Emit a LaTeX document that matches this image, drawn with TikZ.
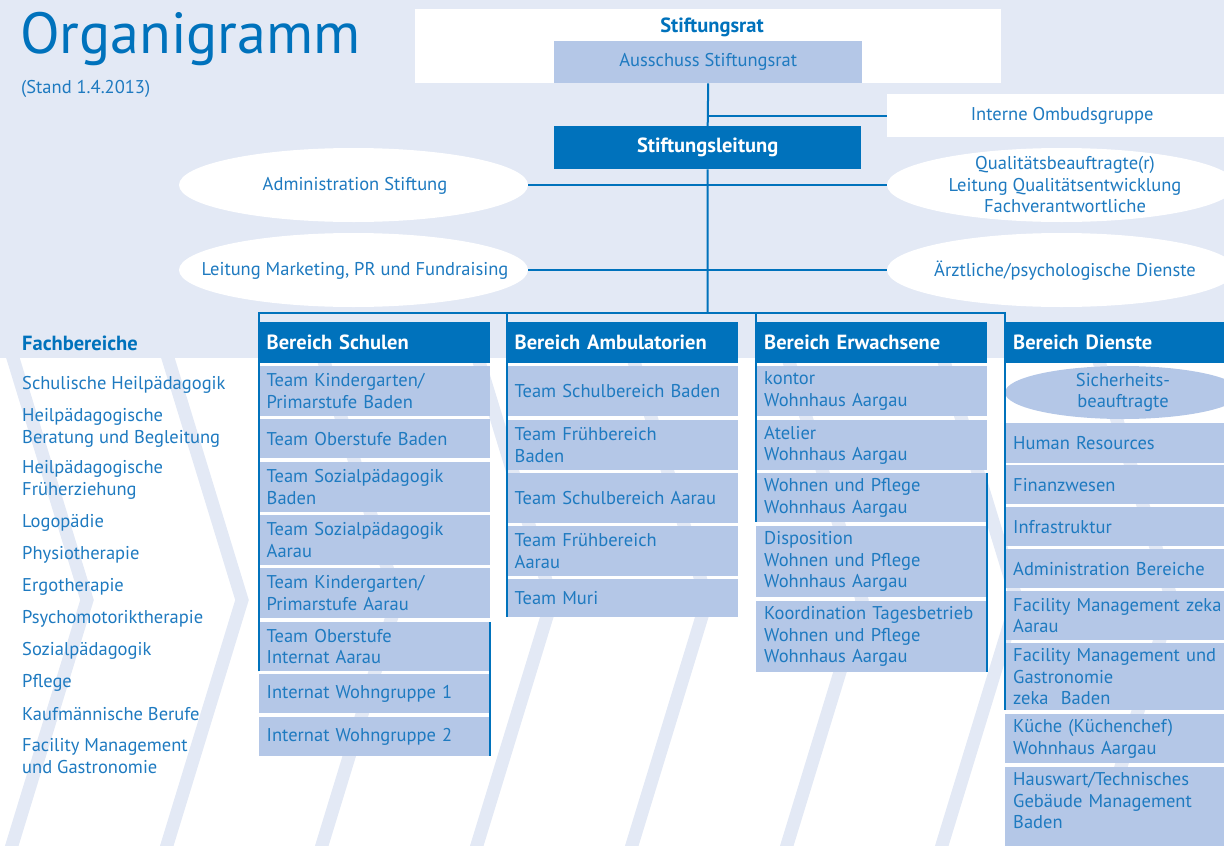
\documentclass[tikz,border=0pt]{standalone}
\usepackage{fontspec}
\setmainfont{PT Sans}
\usetikzlibrary{shapes.geometric}
\definecolor{zekaBlue}{RGB}{0,114,188}
\definecolor{zekaLight}{RGB}{180,199,231}
\definecolor{zekaPale}{RGB}{227,233,245}
\definecolor{zekaText}{RGB}{30,122,192}

\tikzset{
	txt/.style={font=\fontsize{18.5}{21.5}\selectfont,text=zekaText},
	boldtxt/.style={font=\fontsize{20.5}{22}\selectfont\bfseries},
	bereich/.style={boldtxt,anchor=north west,fill=zekaBlue,text=white,minimum height=41pt,text width=215pt,inner xsep=8pt,inner ysep=0pt,align=left},
	team/.style={txt,anchor=north west,fill=zekaLight,text width=215pt,inner xsep=8pt,inner ysep=0pt,align=left},
	bubble/.style={ellipse,fill=white,inner sep=0pt,minimum width=349pt,minimum height=74pt},
	bubbletxt/.style={txt,align=center,inner sep=0pt},
	link/.style={draw=zekaBlue,line width=2pt},
	chevron/.style={draw=zekaPale,line width=13pt,miter limit=10},
}

\begin{document}
\begin{tikzpicture}[x=1pt,y=-1pt]
		\useasboundingbox (0,0) rectangle (1224,846);
		\fill[zekaPale] (0,0) rectangle (1224,358);
		\begin{scope}
			\clip (0,358) rectangle (1224,846);
			\draw[chevron] (5,332) -- (87,600) -- (5,868);
			\draw[chevron] (160,332) -- (242,600) -- (160,868);
			\draw[chevron] (315,332) -- (397,600) -- (315,868);
			\draw[chevron] (470,332) -- (552,600) -- (470,868);
			\draw[chevron] (625,332) -- (707,600) -- (625,868);
			\draw[chevron] (780,332) -- (862,600) -- (780,868);
			\draw[chevron] (935,332) -- (1017,600) -- (935,868);
			\draw[chevron] (1090,332) -- (1172,600) -- (1090,868);
		\end{scope}
		
		\node[anchor=base west,inner sep=0pt,font=\fontsize{58}{60}\selectfont,text=zekaBlue] (title) at (20,53) {Organigramm};
		\node[anchor=base west,inner sep=0pt,txt] (stand) at (21,93) {(Stand 1.4.2013)};
		
		\node[fill=white,anchor=north west,minimum width=586pt,minimum height=74pt,inner sep=0pt] (rat) at (415,9) {};
		\node[boldtxt,text=zekaBlue] (ratlabel) at (712,27) {Stiftungsrat};
		\node[txt,fill=zekaLight,anchor=north west,minimum width=308pt,minimum height=42pt,inner sep=0pt] (aus) at (554,41) {Ausschuss Stiftungsrat};
		\node[txt,fill=white,anchor=west,minimum width=350pt,minimum height=43pt,inner sep=0pt] (ombuds) at (887,115.5) {Interne Ombudsgruppe};
		\node[boldtxt,fill=zekaBlue,text=white,anchor=north west,minimum width=307pt,minimum height=43pt,inner sep=0pt] (leitung) at (554,126) {Stiftungsleitung};
		
		\node[bubble] (admin) at (353.5,185) {};
		\node[bubbletxt] (admintext) at (355,186) {Administration Stiftung};
		\node[bubble] (quali) at (1061.5,185) {};
		\node[bubbletxt] (qualitext) at (1065,185) {Qualitätsbeauftragte(r)\\Leitung Qualitätsentwicklung\\Fachverantwortliche};
		\node[bubble] (marketing) at (353.5,270) {};
		\node[bubbletxt] (marketingtext) at (355,271) {Leitung Marketing, PR und Fundraising};
		\node[bubble] (aerzte) at (1061.5,270) {};
		\node[bubbletxt] (aerztetext) at (1065,271) {Ärztliche/psychologische Dienste};
		
		% Fachbereiche
		\node[boldtxt,text=zekaBlue,anchor=west,inner sep=0pt] (fach) at (22,343) {Fachbereiche};
		\node[txt,anchor=west,align=left,inner sep=0pt] (f1) at (22,385) {Schulische Heilpädagogik};
		\node[txt,anchor=west,align=left,inner sep=0pt] (f2) at (22,428) {Heilpädagogische\\Beratung und Begleitung};
		\node[txt,anchor=west,align=left,inner sep=0pt] (f3) at (22,480) {Heilpädagogische\\Früherziehung};
		\node[txt,anchor=west,align=left,inner sep=0pt] (f4) at (22,523) {Logopädie};
		\node[txt,anchor=west,align=left,inner sep=0pt] (f5) at (22,555) {Physiotherapie};
		\node[txt,anchor=west,align=left,inner sep=0pt] (f6) at (22,587) {Ergotherapie};
		\node[txt,anchor=west,align=left,inner sep=0pt] (f7) at (22,619) {Psychomotoriktherapie};
		\node[txt,anchor=west,align=left,inner sep=0pt] (f8) at (22,651) {Sozialpädagogik};
		\node[txt,anchor=west,align=left,inner sep=0pt] (f9) at (22,683) {Pflege};
		\node[txt,anchor=west,align=left,inner sep=0pt] (f10) at (22,714) {Kaufmännische Berufe};
		\node[txt,anchor=west,align=left,inner sep=0pt] (f11) at (22,756) {Facility Management\\und Gastronomie};
		
		\begin{scope}[xshift=258.5pt]
			\node[bereich] (schulen) at (0,322) {Bereich Schulen};
			\node[team,minimum height=50pt] (s1) at (0,366) {Team Kindergarten/\\Primarstufe Baden};
			\node[team,minimum height=39pt] (s2) at (0,419) {Team Oberstufe Baden};
			\node[team,minimum height=50pt] (s3) at (0,462) {Team Sozialpädagogik\\Baden};
			\node[team,minimum height=50pt] (s4) at (0,515) {Team Sozialpädagogik\\Aarau};
			\node[team,minimum height=50pt] (s5) at (0,568) {Team Kindergarten/\\Primarstufe Aarau};
			\node[team,minimum height=49pt] (s6) at (0,622) {Team Oberstufe\\Internat Aarau};
			\node[team,minimum height=39pt] (s7) at (0,674) {Internat Wohngruppe 1};
			\node[team,minimum height=39pt] (s8) at (0,717) {Internat Wohngruppe 2};
		\end{scope}
		
		\begin{scope}[xshift=506.5pt]
			\node[bereich] (amb) at (0,322) {Bereich Ambulatorien};
			\node[team,minimum height=50pt] (a1) at (0,366) {Team Schulbereich Baden};
			\node[team,minimum height=50pt] (a2) at (0,420) {Team Frühbereich\\Baden};
			\node[team,minimum height=50pt] (a3) at (0,473) {Team Schulbereich Aarau};
			\node[team,minimum height=50pt] (a4) at (0,526) {Team Frühbereich\\Aarau};
			\node[team,minimum height=38pt] (a5) at (0,579) {Team Muri};
		\end{scope}
		
		\begin{scope}[xshift=756pt]
			\node[bereich] (erw) at (0,322) {Bereich Erwachsene};
			\node[team,minimum height=50pt] (e1) at (0,366) {kontor\\Wohnhaus Aargau};
			\node[team,minimum height=50pt] (e2) at (0,420) {Atelier\\Wohnhaus Aargau};
			\node[team,minimum height=49pt] (e3) at (0,473) {Wohnen und Pflege\\Wohnhaus Aargau};
			\node[team,minimum height=71pt] (e4) at (0,526) {Disposition\\Wohnen und Pflege\\Wohnhaus Aargau};
			\node[team,minimum height=71pt] (e5) at (0,601) {Koordination Tagesbetrieb\\Wohnen und Pflege\\Wohnhaus Aargau};
		\end{scope}
		
		\begin{scope}[xshift=1005pt]
			\node[bereich] (dienste) at (0,322) {Bereich Dienste};
			\node[bubble,fill=zekaLight,minimum width=236pt,minimum height=53pt] (sicher) at (118,392.5) {};
			\node[bubbletxt] (sichertext) at (sicher) {Sicherheits-\\beauftragte};
			\node[team,minimum height=40pt] (d1) at (0,423) {Human Resources};
			\node[team,minimum height=39pt] (d2) at (0,465) {Finanzwesen};
			\node[team,minimum height=39pt] (d3) at (0,507) {Infrastruktur};
			\node[team,minimum height=39pt] (d4) at (0,549) {Administration Bereiche};
			\node[team,minimum height=49pt] (d5) at (0,591) {Facility Management zeka\\Aarau};
			\node[team,minimum height=67pt] (d6) at (0,643) {Facility Management und\\Gastronomie\\zeka~~Baden};
			\node[team,minimum height=49pt] (d7) at (0,714) {Küche (Küchenchef)\\Wohnhaus Aargau};
			\node[team,minimum height=67pt] (d8) at (0,767) {Hauswart/Technisches\\Gebäude Management\\Baden};
			\fill[zekaLight] (d8.south west) rectangle ([yshift=-20pt]d8.south east);
		\end{scope}
		
		% Verbindungen
		\coordinate (bus) at (707.5,313);
		\draw[link] (aus.south) -- (leitung.north);
		\draw[link] (leitung.south) -- (bus);
		\draw[link] (aus.south |- ombuds.west) -- (ombuds.west);
		\draw[link] (admin.east) -- (quali.west);
		\draw[link] (marketing.east) -- (aerzte.west);
		\draw[link] (schulen.north west |- s6.south) -- (schulen.north west |- bus) -- (dienste.north west |- bus) -- (dienste.north west |- d6.south);
		\draw[link] (amb.north west |- bus) -- (amb.north west |- a5.south);
		\draw[link] (erw.north west |- bus) -- (erw.north west |- e3.south);
		\draw[link] (s6.north east) -- (s8.south east);
		\draw[link] (e3.north east) -- (e5.south east);
	\end{tikzpicture}
\end{document}
